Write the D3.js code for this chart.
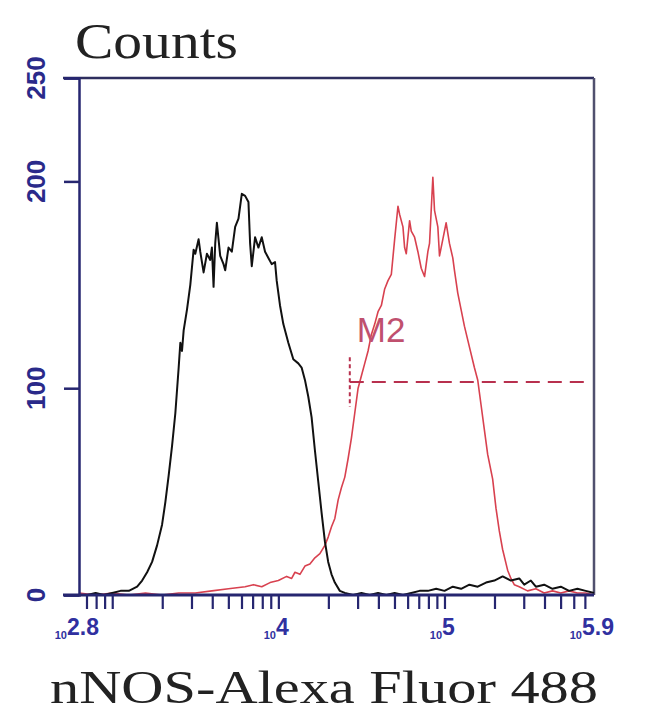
<!DOCTYPE html>
<html><head><meta charset="utf-8">
<script src="https://cdn.jsdelivr.net/npm/d3@7/dist/d3.min.js"></script>
<style>html,body{margin:0;padding:0;background:#fff;}svg{display:block;}</style>
</head><body>
<svg id="c" width="650" height="720"></svg>
<script>
// ---- data (log10 fluorescence, counts) ----
const controlLog = [2.80,2.85,2.90,2.95,3.00,3.05,3.10,3.15,3.18,3.21,3.24,3.27,3.30,3.32,3.34,3.36,3.38,3.40,3.41,3.42,3.43,3.45,3.47,3.49,3.50,3.52,3.53,3.55,3.57,3.59,3.60,3.61,3.62,3.63,3.64,3.65,3.67,3.68,3.70,3.72,3.74,3.76,3.78,3.80,3.82,3.83,3.84,3.86,3.88,3.90,3.92,3.94,3.96,3.98,3.99,4.01,4.03,4.06,4.09,4.12,4.14,4.16,4.18,4.20,4.22,4.24,4.26,4.28,4.30,4.32,4.34,4.37,4.40,4.45,4.50,4.55,4.60,4.65,4.70,4.75,4.80,4.85,4.90,4.95,5.00,5.05,5.10,5.15,5.20,5.25,5.30,5.35,5.40,5.45,5.48,5.52,5.55,5.60,5.65,5.70,5.75,5.80,5.85,5.90];
const controlCounts = [0,0,1,0,1,2,2,4,7,11,16,24,34,45,58,72,88,110,122,118,128,138,150,167,165,172,166,156,165,162,168,149,170,180,172,164,160,157,168,166,178,182,194,193,190,170,159,173,168,173,166,163,160,161,152,140,131,122,114,112,110,104,96,86,70,55,40,26,16,10,6,2,1,0,1,0,1,0,1,0,1,2,2,3,2,4,3,5,4,6,7,9,7,8,5,7,4,5,3,4,2,3,2,1];
const sampleLog = [2.80,2.90,3.00,3.10,3.20,3.30,3.40,3.50,3.60,3.70,3.80,3.85,3.90,3.95,4.00,4.05,4.08,4.10,4.13,4.16,4.19,4.22,4.25,4.28,4.30,4.32,4.34,4.36,4.38,4.40,4.42,4.44,4.46,4.48,4.50,4.52,4.54,4.56,4.58,4.60,4.62,4.64,4.66,4.68,4.70,4.72,4.73,4.75,4.76,4.77,4.79,4.80,4.82,4.84,4.86,4.88,4.90,4.91,4.93,4.94,4.96,4.97,4.99,5.01,5.03,5.05,5.06,5.08,5.10,5.12,5.15,5.18,5.20,5.22,5.24,5.26,5.29,5.31,5.33,5.35,5.38,5.40,5.42,5.45,5.50,5.55,5.60,5.65,5.70,5.75,5.80,5.85,5.90];
const sampleCounts = [1,0,1,0,1,0,1,1,2,3,4,5,4,6,7,9,8,11,10,14,15,18,20,24,28,33,37,46,52,57,66,76,88,100,106,112,118,126,131,137,140,148,152,155,172,188,184,178,168,165,181,176,173,166,158,154,166,170,202,186,178,164,172,180,170,163,157,146,138,130,120,110,104,92,80,68,56,42,31,22,12,8,5,4,2,3,1,2,1,2,1,1,0];
const markerName = "M2";
const markerRange = [4.43, 5.85];
const markerLevel = 103;
const yTicks = [0, 100, 200, 250];
const xTickExps = ["2.8", "4", "5", "5.9"];
const xDomain = [2.8, 5.9];
const yDomain = [0, 250];
const xTitle = "nNOS-Alexa Fluor 488";
const yTitle = "Counts";

// ---- drawing ----
const svg = d3.select("#c");
const L = 79, R = 594, T = 78, B = 595;
const x = d3.scaleLinear().domain(xDomain).range([L, R]);
const y = d3.scaleLinear().domain(yDomain).range([B, T]);
const axisCol = "#262670";

// frame
svg.append("line").attr("x1", L-16).attr("x2", R).attr("y1", T).attr("y2", T)
  .attr("stroke", "#2e2e5e").attr("stroke-width", 2.5);
svg.append("line").attr("x1", R).attr("x2", R).attr("y1", T).attr("y2", B)
  .attr("stroke", "#50506e").attr("stroke-width", 2.5);

// curves
const line = d3.line().x(d => x(d[0])).y(d => y(d[1]));
svg.append("path").datum(sampleLog.map((v, i) => [v, sampleCounts[i]]))
  .attr("d", line).attr("fill", "none").attr("stroke", "#d8414f").attr("stroke-width", 1.6)
  .attr("stroke-linejoin", "round");
svg.append("path").datum(controlLog.map((v, i) => [v, controlCounts[i]]))
  .attr("d", line).attr("fill", "none").attr("stroke", "#111").attr("stroke-width", 2)
  .attr("stroke-linejoin", "round");

// marker
svg.append("line").attr("x1", x(markerRange[0])).attr("x2", x(markerRange[1]))
  .attr("y1", y(markerLevel)).attr("y2", y(markerLevel))
  .attr("stroke", "#b8304e").attr("stroke-width", 2).attr("stroke-dasharray", "14,8");
svg.append("line").attr("x1", x(markerRange[0])).attr("x2", x(markerRange[0]))
  .attr("y1", y(markerLevel + 12)).attr("y2", y(markerLevel - 12))
  .attr("stroke", "#b8304e").attr("stroke-width", 2).attr("stroke-dasharray", "4,3");
svg.append("text").attr("x", x(markerRange[0]) + 7).attr("y", y(markerLevel + 19.5))
  .attr("font-family", "Liberation Sans, Arial, sans-serif").attr("font-size", 35)
  .attr("fill", "#c0506e").text(markerName);

// y axis
const yAxis = d3.axisLeft(y).tickValues(yTicks).tickSize(15).tickFormat("");
const gy = svg.append("g").attr("transform", `translate(${L},0)`).call(yAxis);
gy.selectAll("path").attr("stroke", axisCol).attr("stroke-width", 2.5);
gy.selectAll("line").attr("stroke", axisCol).attr("stroke-width", 2.5);
yTicks.forEach(t => {
  svg.append("text").attr("transform", `translate(36,${y(t)}) rotate(-90)`)
    .attr("text-anchor", "middle").attr("dominant-baseline", "central")
    .attr("font-family", "Liberation Sans, Arial, sans-serif").attr("font-weight", "bold")
    .attr("font-size", 26).attr("fill", "#2a2a8a").text(t);
});

// x axis with log minor ticks
const tickVals = [];
for (let d = 2; d <= 5; d++) for (let m = 1; m <= 9; m++) {
  const v = d + Math.log10(m);
  if (v >= xDomain[0] - 1e-9 && v <= xDomain[1] + 1e-9) tickVals.push(v);
}
const xAxis = d3.axisBottom(x).tickValues(tickVals).tickSize(14).tickSizeOuter(0).tickFormat("");
const gx = svg.append("g").attr("transform", `translate(0,${B})`).call(xAxis);
gx.select("path").attr("stroke", axisCol).attr("stroke-width", 3).attr("d", `M${L-16},0H${R}`);
gx.selectAll("line").attr("stroke", axisCol).attr("stroke-width", 2.2);

xTickExps.forEach(e => {
  const cx = x(+e) + 4;
  const ex = svg.append("text").attr("x", cx).attr("y", 635).attr("text-anchor", "middle")
    .attr("font-family", "Liberation Sans, Arial, sans-serif").attr("font-weight", "bold")
    .attr("font-size", 23).attr("fill", "#3030a0").text(e);
  const w = ex.node().getComputedTextLength();
  svg.append("text").attr("x", cx - w / 2).attr("y", 639).attr("text-anchor", "end")
    .attr("font-family", "Liberation Sans, Arial, sans-serif").attr("font-weight", "bold")
    .attr("font-size", 11).attr("fill", "#3030a0").text("10");
});

// titles
svg.append("text").attr("x", 75).attr("y", 58)
  .attr("font-family", "Liberation Serif, DejaVu Serif, serif").attr("font-size", 50)
  .attr("fill", "#222").attr("textLength", 163).attr("lengthAdjust", "spacingAndGlyphs").text(yTitle);
svg.append("text").attr("x", 50).attr("y", 703)
  .attr("font-family", "Liberation Serif, DejaVu Serif, serif").attr("font-size", 47)
  .attr("fill", "#222").attr("textLength", 548).attr("lengthAdjust", "spacingAndGlyphs").text(xTitle);
</script>
</body></html>
